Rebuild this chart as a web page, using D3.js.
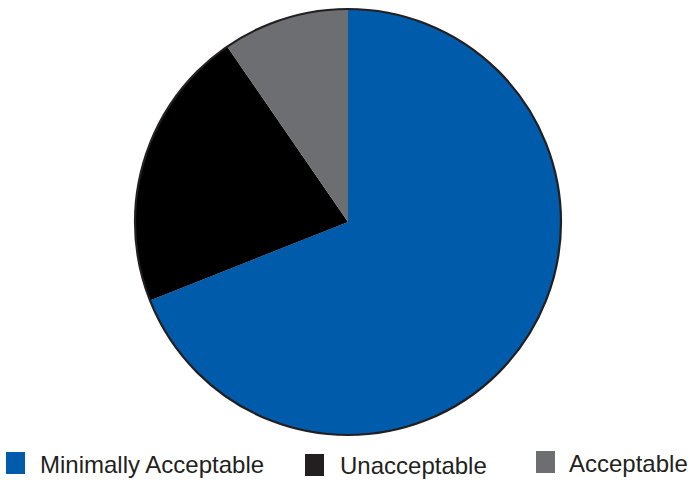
<!DOCTYPE html>
<html>
<head>
<meta charset="utf-8">
<script src="https://cdn.jsdelivr.net/npm/d3@7"></script>
<style>
  html, body { margin: 0; padding: 0; background: #fff; }
  svg { display: block; }
</style>
</head>
<body>
<svg id="chart" width="691" height="480"></svg>
<script>
// Share of ratings, percent
const categories = ["Minimally Acceptable", "Unacceptable", "Acceptable"];
const values = [69, 21.4, 9.6];
const colors = ["#005BAA", "#000000", "#6D6E71"];
const legendColors = ["#005BAA", "#231F20", "#6D6E71"];

const svg = d3.select("#chart");
const cx = 348, cy = 222, r = 213;

const pie = d3.pie().sort(null).value(d => d.value);
const arc = d3.arc().innerRadius(0).outerRadius(r);
const data = categories.map((c, i) => ({ name: c, value: values[i], color: colors[i] }));

const g = svg.append("g").attr("transform", `translate(${cx},${cy})`);
g.selectAll("path.slice")
  .data(pie(data))
  .join("path")
  .attr("class", "slice")
  .attr("d", arc)
  .attr("fill", d => d.data.color);

// outer rim
g.append("circle")
  .attr("r", r)
  .attr("fill", "none")
  .attr("stroke", "#231F20")
  .attr("stroke-width", 2.2);

// legend
const legendItems = [
  { x: 6, y: 452, tx: 40, ty: 473 },
  { x: 305, y: 454, tx: 340, ty: 474 },
  { x: 536, y: 451, tx: 569, ty: 472 }
];
const legend = svg.append("g").selectAll("g")
  .data(categories)
  .join("g");
legend.append("rect")
  .attr("x", (d, i) => legendItems[i].x)
  .attr("y", (d, i) => legendItems[i].y)
  .attr("width", 19)
  .attr("height", 22)
  .attr("fill", (d, i) => legendColors[i]);
legend.append("text")
  .attr("x", (d, i) => legendItems[i].tx)
  .attr("y", (d, i) => legendItems[i].ty)
  .attr("font-family", "Liberation Sans, Arial, sans-serif")
  .attr("font-size", 24)
  .attr("fill", "#231F20")
  .text(d => d);
</script>
</body>
</html>
